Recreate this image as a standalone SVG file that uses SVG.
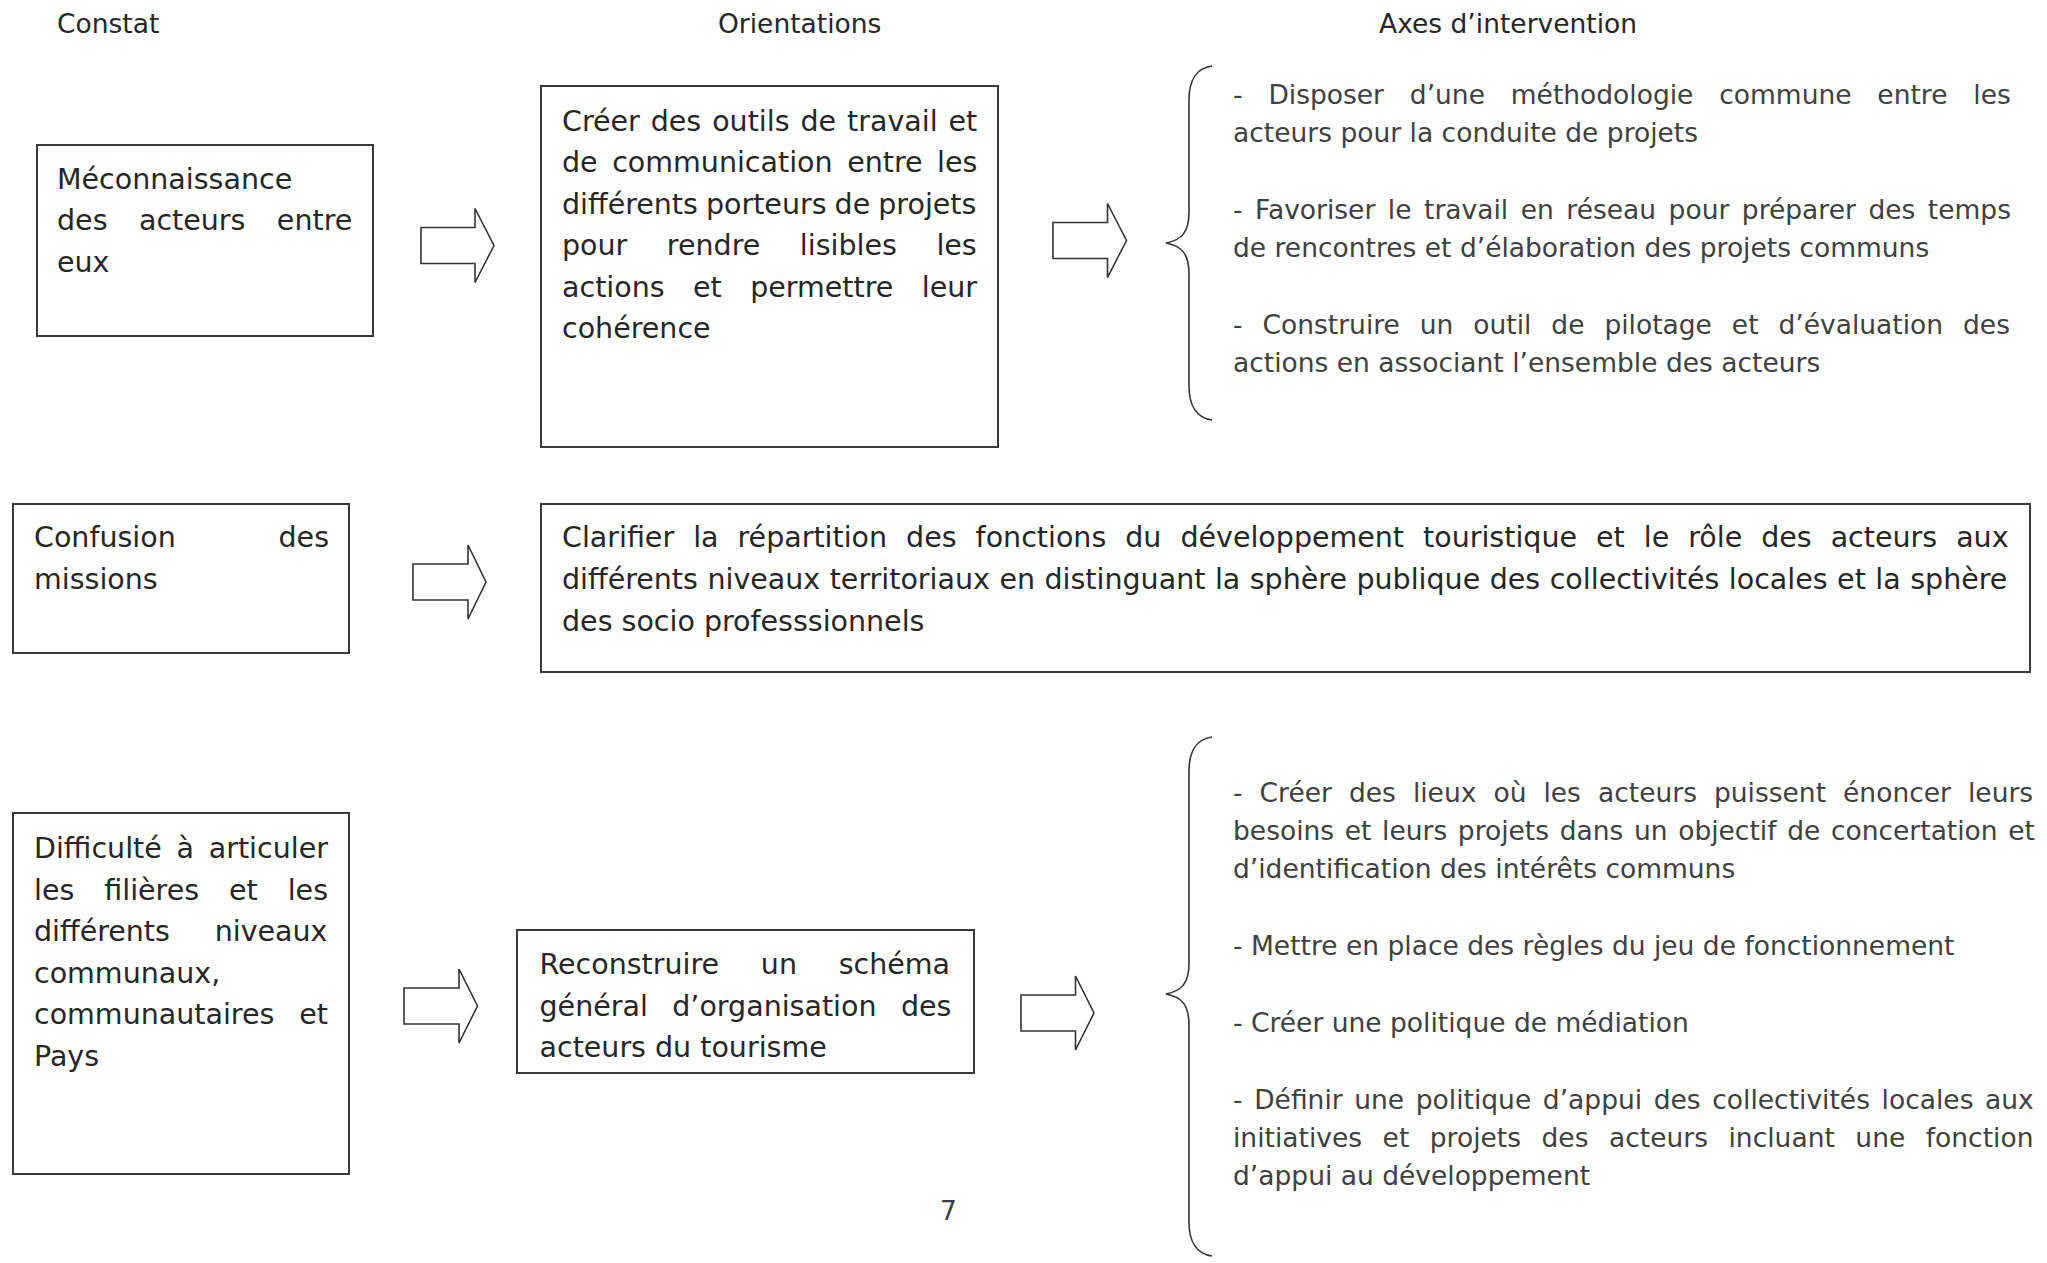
<svg xmlns="http://www.w3.org/2000/svg" width="2047" height="1263" viewBox="0 0 2047 1263">
<style>
.bg{fill:#ffffff}
.box{fill:#ffffff;stroke:#3a3a3a;stroke-width:2}
.arrow{fill:#ffffff;stroke:#333333;stroke-width:1.6;stroke-linejoin:miter}
.brace{fill:none;stroke:#333333;stroke-width:1.6}
.t{font-family:"DejaVu Sans","Liberation Sans",sans-serif;font-size:28.5px;fill:#262626}
.a{font-family:"DejaVu Sans","Liberation Sans",sans-serif;font-size:26.5px;fill:#404040}
.h{font-family:"DejaVu Sans","Liberation Sans",sans-serif;font-size:26.5px;fill:#262626}
</style>
<rect class="bg" x="0" y="0" width="2047" height="1263"/>

<g id="headers">
<text class="h" x="57" y="33">Constat</text>
<text class="h" x="718" y="33">Orientations</text>
<text class="h" x="1379" y="33">Axes d’intervention</text>
</g>

<g id="connectors">
<polygon class="arrow" points="421,227.5 475,227.5 475,208.5 494,245.5 475,282.5 475,263.5 421,263.5"/>
<polygon class="arrow" points="1053,222.5 1107.5,222.5 1107.5,203.5 1126.5,240.5 1107.5,277.5 1107.5,258.5 1053,258.5"/>
<polygon class="arrow" points="413,564 468,564 468,545 486,582 468,619 468,600 413,600"/>
<polygon class="arrow" points="404,988 459,988 459,969 477.5,1006 459,1043 459,1024 404,1024"/>
<polygon class="arrow" points="1021,995 1075.5,995 1075.5,976 1094,1013 1075.5,1050 1075.5,1031 1021,1031"/>
<path class="brace" d="M1212,66 C1197,68 1189,80 1189,100 L1189,212 C1189,232 1182,240 1166,243 C1182,246 1189,254 1189,274 L1189,386 C1189,406 1197,418 1212,420"/>
<path class="brace" d="M1212,737 C1197,739 1189,751 1189,771 L1189,963 C1189,983 1182,991 1166,994 C1182,997 1189,1005 1189,1025 L1189,1222 C1189,1242 1197,1254 1212,1256"/>
</g>

<g id="constat1">
<rect class="box" x="37" y="145" width="336" height="191"/>
<text class="t" x="57" y="188.5">Méconnaissance</text>
<text class="t" x="57" y="230" style="word-spacing:22.4px">des acteurs entre</text>
<text class="t" x="57" y="271.5">eux</text>
</g>

<g id="orientation1">
<rect class="box" x="541" y="86" width="457" height="361"/>
<text class="t" x="562" y="130.5" style="word-spacing:1.9px">Créer des outils de travail et</text>
<text class="t" x="562" y="172" style="word-spacing:5.5px">de communication entre les</text>
<text class="t" x="562" y="213.5" style="word-spacing:-1px">différents porteurs de projets</text>
<text class="t" x="562" y="255" style="word-spacing:30.5px">pour rendre lisibles les</text>
<text class="t" x="562" y="296.5" style="word-spacing:19.4px">actions et permettre leur</text>
<text class="t" x="562" y="338">cohérence</text>
</g>

<g id="axes1">
<text class="a" x="1233" y="104" style="word-spacing:17.4px">- Disposer d’une méthodologie commune entre les</text>
<text class="a" x="1233" y="142">acteurs pour la conduite de projets</text>
<text class="a" x="1233" y="218.5" style="word-spacing:4.1px">- Favoriser le travail en réseau pour préparer des temps</text>
<text class="a" x="1233" y="256.5">de rencontres et d’élaboration des projets communs</text>
<text class="a" x="1233" y="333.5" style="word-spacing:11.5px">- Construire un outil de pilotage et d’évaluation des</text>
<text class="a" x="1233" y="371.5">actions en associant l’ensemble des acteurs</text>
</g>

<g id="constat2">
<rect class="box" x="13" y="504" width="336" height="149"/>
<text class="t" x="34" y="547" style="word-spacing:93.7px">Confusion des</text>
<text class="t" x="34" y="589">missions</text>
</g>

<g id="orientation2">
<rect class="box" x="541" y="504" width="1489" height="168"/>
<text class="t" x="562" y="547" style="word-spacing:9.95px">Clarifier la répartition des fonctions du développement touristique et le rôle des acteurs aux</text>
<text class="t" x="562" y="589" style="word-spacing:0.45px">différents niveaux territoriaux en distinguant la sphère publique des collectivités locales et la sphère</text>
<text class="t" x="562" y="630.5">des socio professsionnels</text>
</g>

<g id="constat3">
<rect class="box" x="13" y="813" width="336" height="361"/>
<text class="t" x="34" y="858" style="word-spacing:5.7px">Difficulté à articuler</text>
<text class="t" x="34" y="899.5" style="word-spacing:20.9px">les filières et les</text>
<text class="t" x="34" y="941" style="word-spacing:35.7px">différents niveaux</text>
<text class="t" x="34" y="982.5">communaux,</text>
<text class="t" x="34" y="1024" style="word-spacing:15.8px">communautaires et</text>
<text class="t" x="34" y="1065.5">Pays</text>
</g>

<g id="orientation3">
<rect class="box" x="517" y="930" width="457" height="143"/>
<text class="t" x="539.5" y="974" style="word-spacing:32.7px">Reconstruire un schéma</text>
<text class="t" x="539.5" y="1015.5" style="word-spacing:15.4px">général d’organisation des</text>
<text class="t" x="539.5" y="1057">acteurs du tourisme</text>
</g>

<g id="axes3">
<text class="a" x="1233" y="802" style="word-spacing:8.6px">- Créer des lieux où les acteurs puissent énoncer leurs</text>
<text class="a" x="1233" y="840" style="word-spacing:2.2px">besoins et leurs projets dans un objectif de concertation et</text>
<text class="a" x="1233" y="878">d’identification des intérêts communs</text>
<text class="a" x="1233" y="955">- Mettre en place des règles du jeu de fonctionnement</text>
<text class="a" x="1233" y="1032">- Créer une politique de médiation</text>
<text class="a" x="1233" y="1109" style="word-spacing:3.2px">- Définir une politique d’appui des collectivités locales aux</text>
<text class="a" x="1233" y="1147" style="word-spacing:12.1px">initiatives et projets des acteurs incluant une fonction</text>
<text class="a" x="1233" y="1185">d’appui au développement</text>
</g>

<g id="page-number">
<text class="a" x="940" y="1220">7</text>
</g>
</svg>
